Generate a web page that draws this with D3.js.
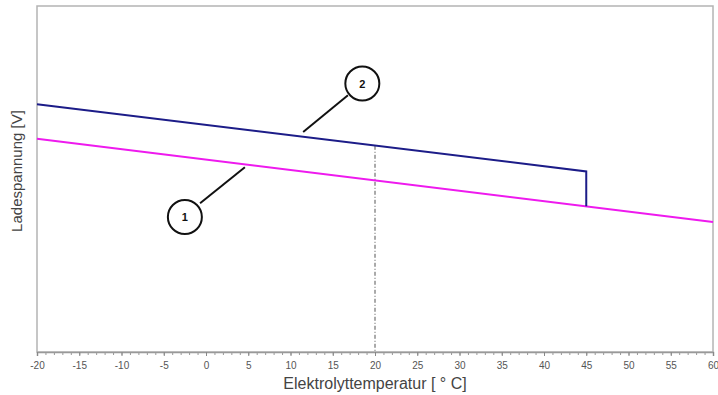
<!DOCTYPE html>
<html>
<head>
<meta charset="utf-8">
<script src="https://cdn.jsdelivr.net/npm/d3@7"></script>
<style>
  body { margin: 0; background: #fff; }
  svg { display: block; font-family: "Liberation Sans", Arial, sans-serif; }
</style>
</head>
<body>
<svg id="chart"></svg>
<script>
// charge voltage vs. electrolyte temperature (V per cell)
const line1 = [[-20, 2.408], [60, 2.288]];                  // magenta
const line2 = [[-20, 2.458], [45, 2.361], [45, 2.3105]];    // navy, drops at 45
const refTemp = 20;
const refVolt = 2.398;
const xTicks = d3.range(-20, 61, 5);
const minorTicks = d3.range(-20, 61, 1);
const callouts = [
  { label: '1', cx: -2.5, cy: 2.295, x1: -0.7, y1: 2.315, x2: 4.6, y2: 2.367 },
  { label: '2', cx: 18.5, cy: 2.488, x1: 16.8, y1: 2.471, x2: 11.5, y2: 2.418 }
];

const W = 718, H = 395;
const M = { top: 6, right: 5, bottom: 43, left: 37 };

const svg = d3.select('#chart').attr('width', W).attr('height', H);

const x = d3.scaleLinear().domain([-20, 60]).range([M.left, W - M.right]);
const y = d3.scaleLinear().domain([2.10, 2.60]).range([H - M.bottom, M.top]);

// frame
svg.append('rect')
  .attr('x', M.left).attr('y', M.top)
  .attr('width', x(60) - M.left).attr('height', y(2.10) - M.top)
  .attr('fill', 'none').attr('stroke', '#b4b4b4').attr('stroke-width', 1.5);

// minor ticks
svg.append('g')
  .attr('transform', `translate(0,${y(2.10)})`)
  .call(d3.axisBottom(x).tickValues(minorTicks).tickSize(3).tickFormat(''))
  .call(g => g.select('.domain').remove())
  .call(g => g.selectAll('line').attr('stroke', '#999'));

// major ticks + labels
const xAxis = svg.append('g')
  .attr('transform', `translate(0,${y(2.10)})`)
  .call(d3.axisBottom(x).tickValues(xTicks).tickSize(4).tickPadding(6).tickFormat(d3.format('d')));
xAxis.select('.domain').attr('stroke', '#999').attr('stroke-width', 1.5);
xAxis.selectAll('line').attr('stroke', '#888');
xAxis.selectAll('text')
  .attr('fill', '#555').attr('font-size', 10)
  .text(d => d < 0 ? '-' + Math.abs(d) : d);

// reference line at 20 °C
svg.append('line')
  .attr('x1', x(refTemp)).attr('x2', x(refTemp))
  .attr('y1', y(refVolt)).attr('y2', y(2.10))
  .attr('stroke', '#555').attr('stroke-width', 1)
  .attr('stroke-dasharray', '4,2,1,2');

const line = d3.line().x(d => x(d[0])).y(d => y(d[1]));

svg.append('path').datum(line1)
  .attr('d', line).attr('fill', 'none')
  .attr('stroke', '#ee1aee').attr('stroke-width', 2);

svg.append('path').datum(line2)
  .attr('d', line).attr('fill', 'none')
  .attr('stroke', '#1c1c88').attr('stroke-width', 2);

// numbered callouts
const co = svg.append('g').selectAll('g').data(callouts).join('g');
co.append('line')
  .attr('x1', d => x(d.x1)).attr('y1', d => y(d.y1))
  .attr('x2', d => x(d.x2)).attr('y2', d => y(d.y2))
  .attr('stroke', '#111').attr('stroke-width', 2);
co.append('circle')
  .attr('cx', d => x(d.cx)).attr('cy', d => y(d.cy)).attr('r', 17)
  .attr('fill', '#fff').attr('stroke', '#111').attr('stroke-width', 2);
co.append('text')
  .attr('x', d => x(d.cx)).attr('y', d => y(d.cy) + 4)
  .attr('text-anchor', 'middle').attr('font-size', 11).attr('font-weight', 'bold')
  .attr('fill', '#111').text(d => d.label);

// axis titles
svg.append('text')
  .attr('x', (M.left + W - M.right) / 2).attr('y', 389)
  .attr('text-anchor', 'middle').attr('font-size', 16).attr('fill', '#444')
  .text('Elektrolyttemperatur [ ° C]');

svg.append('text')
  .attr('transform', `translate(22,171) rotate(-90)`)
  .attr('text-anchor', 'middle').attr('font-size', 15).attr('fill', '#444')
  .text('Ladespannung [V]');
</script>
</body>
</html>
